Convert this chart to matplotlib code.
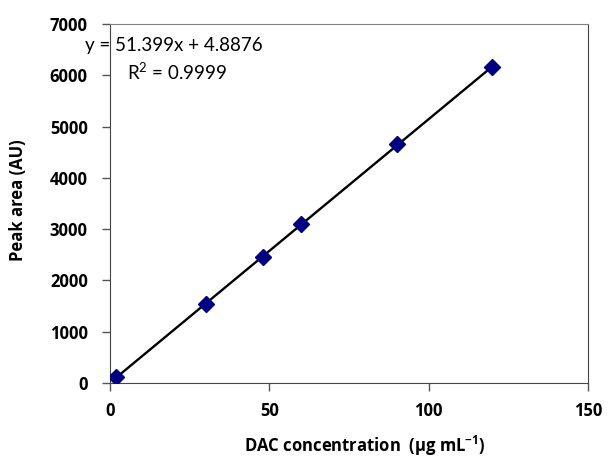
import matplotlib
matplotlib.use("Agg")
import matplotlib.pyplot as plt
import numpy as np

# DAC calibration data
conc = [2, 30, 48, 60, 90, 120]
peak_area = [120, 1535, 2460, 3100, 4660, 6160]
slope = 51.399
intercept = 4.8876
eq_text = "y = 51.399x + 4.8876"
r2_text = "R$^2$ = 0.9999"

plt.rcParams["font.family"] = ["Lato", "DejaVu Sans"]
plt.rcParams["mathtext.fontset"] = "custom"
plt.rcParams["mathtext.rm"] = "Lato"
plt.rcParams["mathtext.bf"] = "Open Sans:bold"

bold_font = ["Open Sans", "DejaVu Sans"]

fig = plt.figure(figsize=(6.08, 4.63), dpi=100)
ax = fig.add_axes([0.181, 0.173, 0.786, 0.775])

xfit = np.array([min(conc), max(conc)])
ax.plot(xfit, slope * xfit + intercept, color="black", lw=1.7, zorder=2)
ax.plot(conc, peak_area, ls="none", marker="D", ms=8.5, color="#000080",
        markeredgecolor="#000080", zorder=3)

ax.set_xlim(0, 150)
ax.set_ylim(0, 7000)
ax.set_xticks([0, 50, 100, 150])
ax.set_yticks(range(0, 7001, 1000))
ax.tick_params(direction="out", length=6, width=1, labelsize=12, color="#555555")
for lbl in ax.get_xticklabels() + ax.get_yticklabels():
    lbl.set_fontweight("bold")
    lbl.set_family(bold_font)
ax.tick_params(axis="x", pad=8)
ax.tick_params(axis="y", pad=10)

for side in ["top", "right", "left", "bottom"]:
    ax.spines[side].set_color("#444444")
ax.spines["top"].set_color("#808080")

fig.text(365 / 608, 1 - 446 / 463, "DAC concentration  (\u00b5g mL$^{\\mathbf{-1}}$)",
         fontsize=12, fontweight="bold", family=bold_font, ha="center", va="center")
fig.text(18 / 608, 1 - 200 / 463, "Peak area (AU)", fontsize=12, fontweight="bold",
         family=bold_font, ha="center", va="center", rotation=90)

fig.text(85 / 608, 1 - 45 / 463, eq_text, fontsize=13.5, va="center", ha="left")
fig.text(127 / 608, 1 - 72 / 463, r2_text, fontsize=13.5, va="center", ha="left")

fig.savefig("out.png", dpi=100)
